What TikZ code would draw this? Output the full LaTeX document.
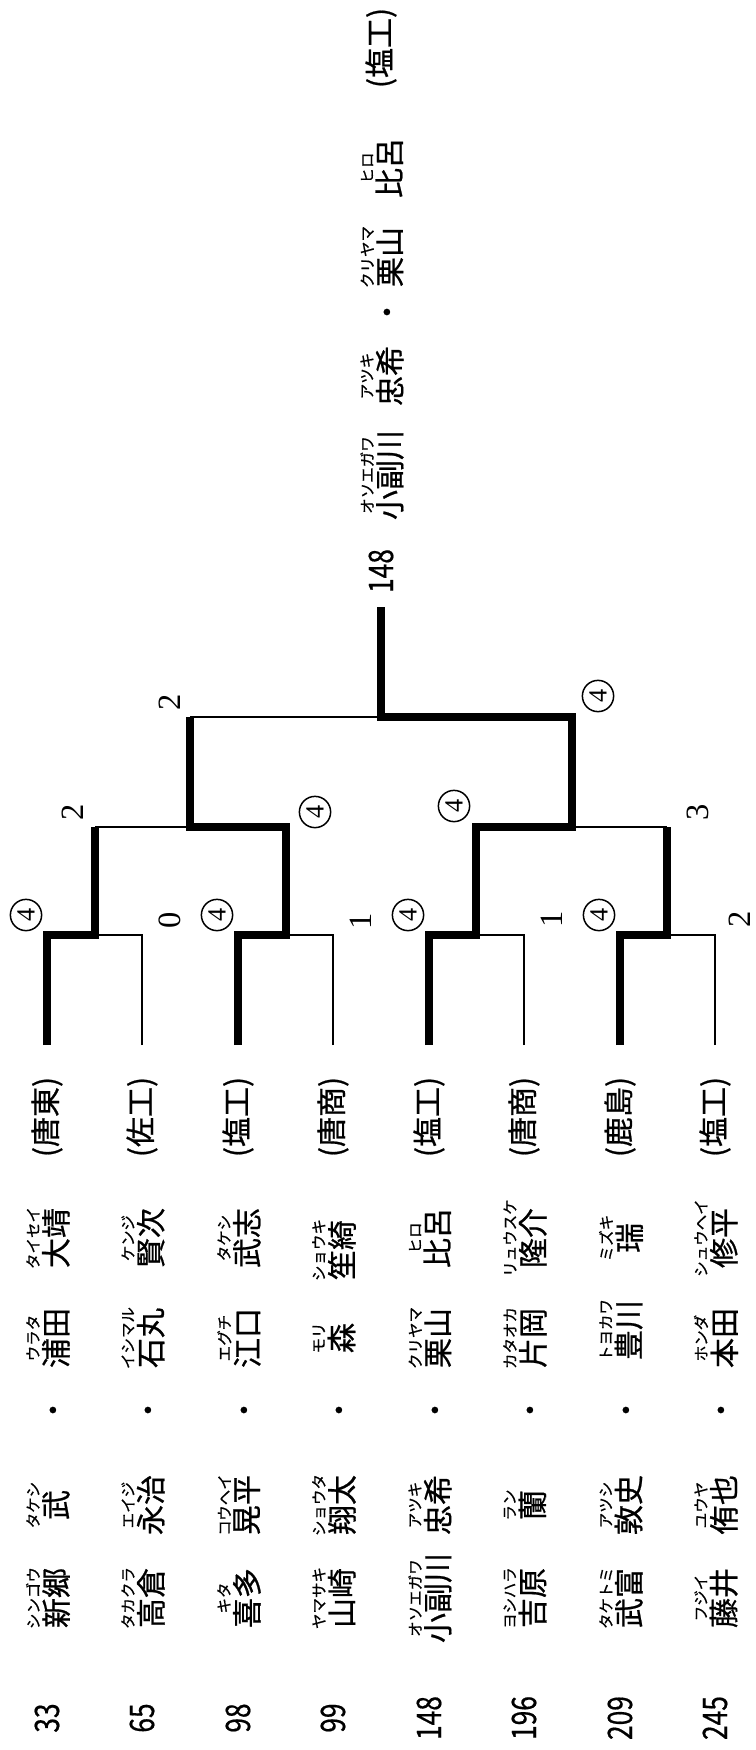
\documentclass[tikz,border=0pt]{standalone}
\usepackage{fontspec}
\setmainfont{Liberation Serif}
\newfontfamily\jpfont[FakeBold=0.7]{Noto Sans CJK JP}
\newfontfamily\numfont[FakeStretch=0.78,FakeBold=0.5]{Noto Sans CJK JP}
\usetikzlibrary{calc}
\newcommand\rubyfont{\jpfont\fontsize{6.2}{6.2}\selectfont}
\newcommand\rb[2]{\vbox{\offinterlineskip\halign{\hfil##\hfil\cr{\rubyfont #2}\cr\noalign{\kern1pt}#1\cr}}}
\tikzset{
  seed/.style={rotate=90, inner sep=0pt, font=\numfont\fontsize{13.5}{13.5}\selectfont},
  player/.style={rotate=90, inner sep=0pt, font=\jpfont\fontsize{12}{12}\selectfont},
  school/.style={player},
  score/.style={rotate=90, inner sep=0pt, font=\fontsize{13}{13}\selectfont},
  winmark/.style={circle, draw, line width=0.6pt, minimum size=12.5pt, inner sep=0pt, rotate=90, font=\fontsize{10.5}{10.5}\selectfont},
  winline/.style={line width=3pt},
  loseline/.style={line width=0.8pt}
}
\begin{document}
\begin{tikzpicture}[x=0.4pt, y=-0.4pt]
  \path[use as bounding box, fill=white] (0,0) rectangle (755,1750);
  % entries
  \node[seed] (n1) at (47,1718) {33};
  \node[player] (a1) at (48,1598) {\rb{新郷}{シンゴウ}};
  \node[player] (b1) at (48,1505) {\rb{武}{タケシ}};
  \node[player] (d1) at (57,1410) {・};
  \node[player] (c1) at (48,1338) {\rb{浦田}{ウラタ}};
  \node[player] (e1) at (48,1238) {\rb{大靖}{タイセイ}};
  \node[school] (s1) at (47,1117) {(唐東)};
  \node[seed] (n2) at (142,1718) {65};
  \node[player] (a2) at (143,1598) {\rb{高倉}{タカクラ}};
  \node[player] (b2) at (143,1505) {\rb{永治}{エイジ}};
  \node[player] (d2) at (152,1410) {・};
  \node[player] (c2) at (143,1338) {\rb{石丸}{イシマル}};
  \node[player] (e2) at (143,1238) {\rb{賢次}{ケンジ}};
  \node[school] (s2) at (142,1117) {(佐工)};
  \node[seed] (n3) at (238,1718) {98};
  \node[player] (a3) at (239,1598) {\rb{喜多}{キタ}};
  \node[player] (b3) at (239,1505) {\rb{晃平}{コウヘイ}};
  \node[player] (d3) at (248,1410) {・};
  \node[player] (c3) at (239,1338) {\rb{江口}{エグチ}};
  \node[player] (e3) at (239,1238) {\rb{武志}{タケシ}};
  \node[school] (s3) at (238,1117) {(塩工)};
  \node[seed] (n4) at (333,1718) {99};
  \node[player] (a4) at (334,1598) {\rb{山崎}{ヤマサキ}};
  \node[player] (b4) at (334,1505) {\rb{翔太}{ショウタ}};
  \node[player] (d4) at (343,1410) {・};
  \node[player] (c4) at (334,1338) {\rb{森}{モリ}};
  \node[player] (e4) at (334,1250) {\rb{笙綺}{ショウキ}};
  \node[school] (s4) at (333,1117) {(唐商)};
  \node[seed] (n5) at (429,1718) {148};
  \node[player] (a5) at (430,1598) {\rb{小副川}{オソエガワ}};
  \node[player] (b5) at (430,1505) {\rb{忠希}{アツキ}};
  \node[player] (d5) at (439,1410) {・};
  \node[player] (c5) at (430,1338) {\rb{栗山}{クリヤマ}};
  \node[player] (e5) at (430,1238) {\rb{比呂}{ヒロ}};
  \node[school] (s5) at (429,1117) {(塩工)};
  \node[seed] (n6) at (524,1718) {196};
  \node[player] (a6) at (525,1598) {\rb{吉原}{ヨシハラ}};
  \node[player] (b6) at (525,1505) {\rb{蘭}{ラン}};
  \node[player] (d6) at (534,1410) {・};
  \node[player] (c6) at (525,1338) {\rb{片岡}{カタオカ}};
  \node[player] (e6) at (525,1238) {\rb{隆介}{リュウスケ}};
  \node[school] (s6) at (524,1117) {(唐商)};
  \node[seed] (n7) at (620,1718) {209};
  \node[player] (a7) at (621,1598) {\rb{武富}{タケトミ}};
  \node[player] (b7) at (621,1505) {\rb{敦史}{アツシ}};
  \node[player] (d7) at (630,1410) {・};
  \node[player] (c7) at (621,1330) {\rb{豊川}{トヨカワ}};
  \node[player] (e7) at (621,1238) {\rb{瑞}{ミズキ}};
  \node[school] (s7) at (620,1117) {(鹿島)};
  \node[seed] (n8) at (715,1718) {245};
  \node[player] (a8) at (716,1598) {\rb{藤井}{フジイ}};
  \node[player] (b8) at (716,1505) {\rb{侑也}{ユウヤ}};
  \node[player] (d8) at (725,1410) {・};
  \node[player] (c8) at (716,1338) {\rb{本田}{ホンダ}};
  \node[player] (e8) at (716,1238) {\rb{修平}{シュウヘイ}};
  \node[school] (s8) at (715,1117) {(塩工)};
  % champion
  \node[seed] (n0) at (381,571) {148};
  \node[player] (a0) at (382,475) {\rb{小副川}{オソエガワ}};
  \node[player] (b0) at (382,376) {\rb{忠希}{アツキ}};
  \node[player] (d0) at (391,312) {・};
  \node[player] (c0) at (382,257) {\rb{栗山}{クリヤマ}};
  \node[player] (e0) at (382,168) {\rb{比呂}{ヒロ}};
  \node[school] (s0) at (381,48) {(塩工)};
  % bracket points
  \coordinate (l1) at (47,1045);
  \coordinate (l2) at (142,1045);
  \coordinate (l3) at (238,1045);
  \coordinate (l4) at (333,1045);
  \coordinate (l5) at (429,1045);
  \coordinate (l6) at (524,1045);
  \coordinate (l7) at (620,1045);
  \coordinate (l8) at (715,1045);
  \coordinate (m1) at (95,935);
  \coordinate (m2) at (286,935);
  \coordinate (m3) at (476,935);
  \coordinate (m4) at (667,935);
  \coordinate (q1) at (190,827);
  \coordinate (q2) at (572,827);
  \coordinate (f) at (381,717);
  \coordinate (top) at (381,607);
  % losing lines
  \draw[loseline] (l2) |- (m1);
  \draw[loseline] (l4) |- (m2);
  \draw[loseline] (l6) |- (m3);
  \draw[loseline] (l8) |- (m4);
  \draw[loseline] (m1 |- q1) -- (q1);
  \draw[loseline] (m4 |- q2) -- (q2);
  \draw[loseline] (q1 |- f) -- (f);
  % winning lines
  \draw[winline] (l1) |- (m1) -- (m1 |- q1);
  \draw[winline] (l3) |- (m2) |- (q1) -- (q1 |- f);
  \draw[winline] (l5) |- (m3) |- (q2) |- (f) -- (top);
  \draw[winline] (l7) |- (m4) -- (m4 |- q2);
  % scores
  \node[winmark] (w1) at (26,915) {4};
  \node[score] (k1) at (170,920) {0};
  \node[winmark] (w2) at (217,915) {4};
  \node[score] (k2) at (361,921) {1};
  \node[winmark] (w3) at (408,915) {4};
  \node[score] (k3) at (552,919) {1};
  \node[winmark] (w4) at (599,915) {4};
  \node[score] (k4) at (740,919) {2};
  \node[score] (k5) at (73,812) {2};
  \node[winmark] (w5) at (315,812) {4};
  \node[winmark] (w6) at (454,806) {4};
  \node[score] (k6) at (698,812) {3};
  \node[score] (k7) at (170,702) {2};
  \node[winmark] (w7) at (598,696) {4};
\end{tikzpicture}
\end{document}
